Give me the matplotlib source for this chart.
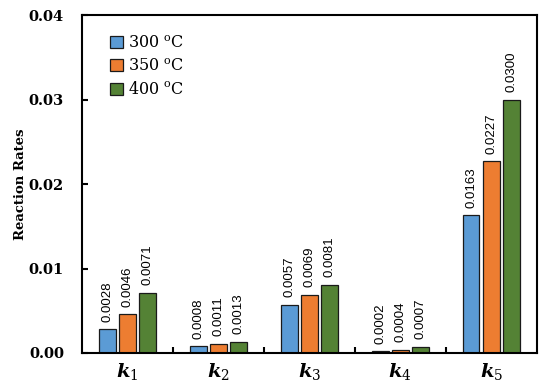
import matplotlib
matplotlib.use("Agg")
import matplotlib.pyplot as plt
import numpy as np

categories = ["k_1", "k_2", "k_3", "k_4", "k_5"]
series_names = ["300 $^{\\mathrm{o}}$C", "350 $^{\\mathrm{o}}$C", "400 $^{\\mathrm{o}}$C"]
v300 = [0.0028, 0.0008, 0.0057, 0.0002, 0.0163]
v350 = [0.0046, 0.0011, 0.0069, 0.0004, 0.0227]
v400 = [0.0071, 0.0013, 0.0081, 0.0007, 0.0300]
yticks = [0.00, 0.01, 0.02, 0.03, 0.04]

colors = ["#5B9BD5", "#ED7D31", "#548235"]

plt.rcParams['font.family'] = ['DejaVu Serif']
plt.rcParams['mathtext.fontset'] = 'dejavuserif'

fig = plt.figure(figsize=(5.5, 3.92), dpi=100)
ax = fig.add_axes([0.149, 0.0995, 0.827, 0.862])

x = np.arange(len(categories))
w = 0.18
step = 0.22
for i, (vals, name, c) in enumerate(zip([v300, v350, v400], series_names, colors)):
    pos = x + (i - 1) * step
    ax.bar(pos, vals, width=w, color=c, edgecolor="#1a1a1a", linewidth=0.9, label=name)
    for p, v in zip(pos, vals):
        ax.text(p, v + 0.0009, f"{v:.4f}", rotation=90, ha="center", va="bottom",
                fontsize=9.5, family="Liberation Sans")

ax.set_xlim(-0.5, len(categories) - 0.5)
ax.set_ylim(0, 0.04)
ax.set_yticks(yticks)
ax.set_yticklabels([f"{t:.2f}" for t in yticks], fontweight="bold", fontsize=10.5)
ax.set_xticks(x)
ax.set_xticklabels([f"$\\boldsymbol{{k}}_{{\\mathit{{{c[-1]}}}}}$" for c in categories], fontsize=14)
ax.tick_params(axis="x", length=0, pad=6)
ax.set_xticks(np.arange(0.5, len(categories) - 0.5, 1), minor=True)
ax.tick_params(axis="x", which="minor", direction="in", length=4, width=1.5)
ax.tick_params(axis="y", direction="in", length=4, width=1.5, pad=13)
for s in ax.spines.values():
    s.set_linewidth(1.5)
ax.set_ylabel("Reaction Rates", fontweight="bold", fontsize=9.5, labelpad=1)

leg = ax.legend(loc="upper left", bbox_to_anchor=(0.03, 0.985), frameon=False, fontsize=11.5,
                handlelength=0.8, handleheight=0.8, handletextpad=0.3, labelspacing=0.4)

fig.savefig("out.png", dpi=100)
